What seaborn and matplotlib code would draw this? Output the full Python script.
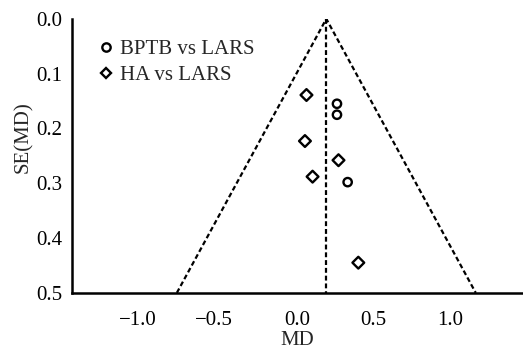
import numpy as np
import pandas as pd
import matplotlib
matplotlib.use("Agg")
import matplotlib.pyplot as plt
import matplotlib.transforms as mtransforms
import seaborn as sns

# Data
bptb_md = [0.26, 0.26, 0.33]
bptb_se = [0.155, 0.175, 0.298]
ha_md = [0.06, 0.05, 0.10, 0.27, 0.40]
ha_se = [0.139, 0.223, 0.288, 0.258, 0.445]
groups = ["BPTB vs LARS", "HA vs LARS"]
pooled_md = 0.19
se_max = 0.5
xticks = [-1.0, -0.5, 0.0, 0.5, 1.0]
yticks = [0.0, 0.1, 0.2, 0.3, 0.4, 0.5]

df = pd.DataFrame({
    "MD": bptb_md + ha_md,
    "SE": bptb_se + ha_se,
    "group": [groups[0]] * len(bptb_md) + [groups[1]] * len(ha_md),
})

sns.set_style("white")
plt.rcParams["font.family"] = ["Liberation Serif", "DejaVu Serif"]
plt.rcParams["axes.unicode_minus"] = True

fig = plt.figure(figsize=(5.23, 3.49), dpi=100)
ax = fig.add_axes([0.137, 0.161, 0.863, 0.785])

# funnel lines
ax.plot([pooled_md - 1.96 * se_max, pooled_md, pooled_md + 1.96 * se_max],
        [se_max, 0, se_max], color="black", ls=(0, (2.2, 1.3)), lw=1.6, zorder=1)
ax.plot([pooled_md, pooled_md], [0, se_max], color="black",
        ls=(0, (2.2, 1.3)), lw=1.6, zorder=1)

sns.scatterplot(data=df, x="MD", y="SE", hue="group", style="group",
                markers={groups[0]: "o", groups[1]: "D"},
                palette={groups[0]: "white", groups[1]: "white"},
                edgecolor="black", linewidth=1.7, s=36, ax=ax, zorder=3,
                legend=False)

ax.set_xlim(-1.48, 1.48)
ax.set_ylim(0.5, 0.0)
ax.set_xticks(xticks)
ax.set_yticks(yticks)
ax.set_xticklabels([(f"\u2212{abs(t):.1f}" if t < 0 else f"{t:.1f}") for t in xticks])
ax.set_yticklabels([f"{t:.1f}" for t in yticks])
ax.tick_params(direction="in", length=5, width=1.5, labelsize=15,
               colors="black")
ax.tick_params(axis="x", pad=13)
ax.tick_params(axis="y", pad=7)
# negative labels: digits centred on the tick, minus hanging to the left
shift = mtransforms.ScaledTranslation(-7 / 100, 0, fig.dpi_scale_trans)
for t, lab in zip(xticks, ax.get_xticklabels()):
    if t < 0:
        lab.set_transform(lab.get_transform() + shift)

ax.set_xlabel("MD", fontsize=15)
ax.xaxis.set_label_coords(0.5, -0.14)
ax.set_ylabel("SE(MD)", fontsize=15)
ax.yaxis.set_label_coords(-0.086, 0.569)
for side in ["top", "right"]:
    ax.spines[side].set_visible(False)
for side in ["left", "bottom"]:
    ax.spines[side].set_linewidth(1.8)
    ax.spines[side].set_color("black")

handles = [
    plt.Line2D([], [], ls="none", marker="o", markersize=6,
               markerfacecolor="white", markeredgecolor="black", markeredgewidth=1.7),
    plt.Line2D([], [], ls="none", marker="D", markersize=5.5,
               markerfacecolor="white", markeredgecolor="black", markeredgewidth=1.7),
]
ax.legend(handles, groups, loc="upper left", bbox_to_anchor=(0.034, 0.955),
          frameon=False, fontsize=15, handletextpad=0.2, labelspacing=0.3,
          borderaxespad=0, handlelength=1.0)

fig.savefig("out.png", dpi=100)
